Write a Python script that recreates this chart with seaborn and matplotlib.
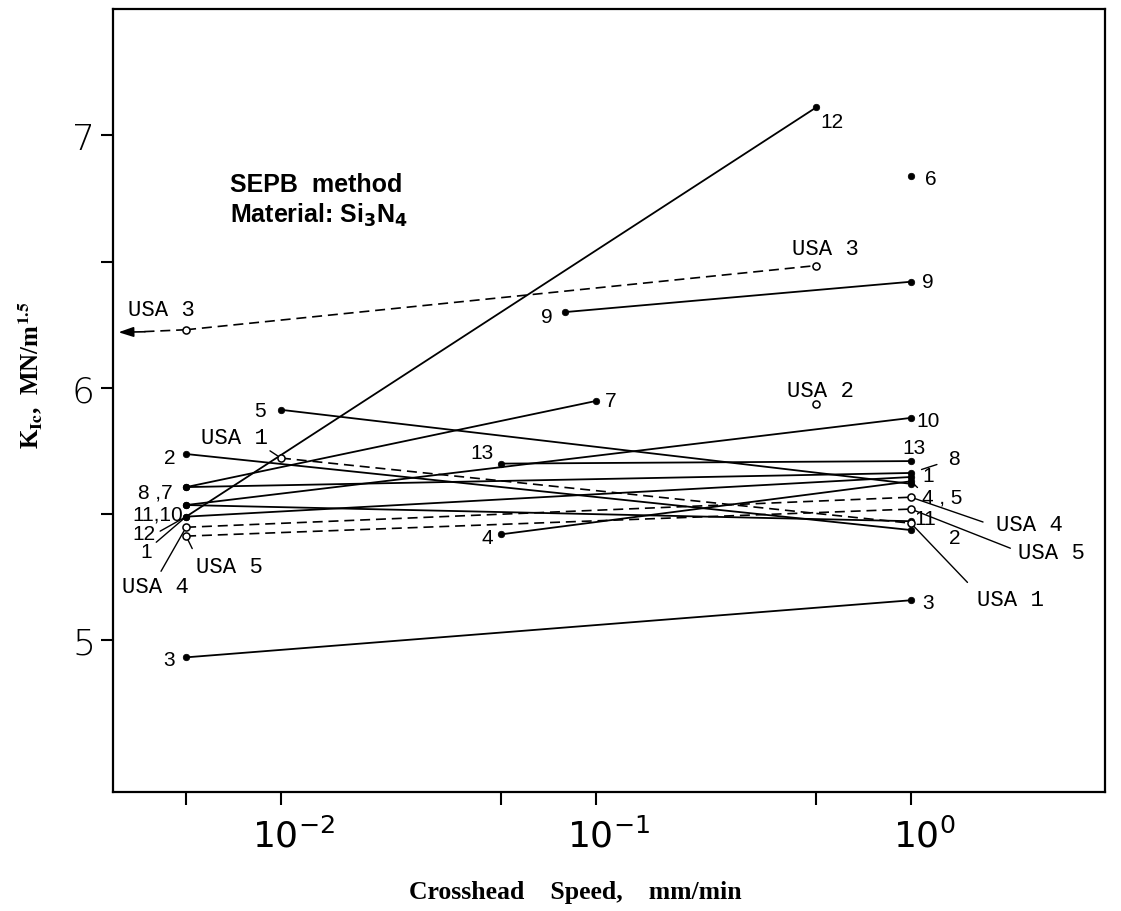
import matplotlib
matplotlib.use("Agg")
import matplotlib.pyplot as plt
from matplotlib.ticker import NullLocator
from matplotlib.transforms import ScaledTranslation
import pandas as pd
import seaborn as sns

# ---------------- data ----------------
s1_x, s1_y = [0.005, 1.0], [5.49, 5.647]
s2_x, s2_y = [0.005, 1.0], [5.738, 5.437]
s3_x, s3_y = [0.005, 1.0], [4.933, 5.159]
s4_x, s4_y = [0.05, 1.0], [5.42, 5.63]
s5_x, s5_y = [0.01, 1.0], [5.913, 5.62]
s6_x, s6_y = [1.0], [6.837]
s7_x, s7_y = [0.005, 0.1], [5.607, 5.948]
s8_x, s8_y = [0.005, 1.0], [5.607, 5.663]
s9_x, s9_y = [0.08, 1.0], [6.30, 6.42]
s10_x, s10_y = [0.005, 1.0], [5.536, 5.881]
s11_x, s11_y = [0.005, 1.0], [5.536, 5.472]
s12_x, s12_y = [0.005, 0.5], [5.49, 7.11]
s13_x, s13_y = [0.05, 1.0], [5.70, 5.71]

usa1_x, usa1_y = [0.01, 1.0], [5.722, 5.464]
usa2_x, usa2_y = [0.5], [5.937]
usa3_x, usa3_y = [0.005, 0.5], [6.23, 6.484]
usa4_x, usa4_y = [0.005, 1.0], [5.448, 5.567]
usa5_x, usa5_y = [0.005, 1.0], [5.413, 5.52]

solid_names = ['1', '2', '3', '4', '5', '6', '7', '8', '9', '10', '11', '12', '13']
solid_xs = [s1_x, s2_x, s3_x, s4_x, s5_x, s6_x, s7_x, s8_x, s9_x, s10_x, s11_x, s12_x, s13_x]
solid_ys = [s1_y, s2_y, s3_y, s4_y, s5_y, s6_y, s7_y, s8_y, s9_y, s10_y, s11_y, s12_y, s13_y]
usa_names = ['USA 1', 'USA 2', 'USA 3', 'USA 4', 'USA 5']
usa_xs = [usa1_x, usa2_x, usa3_x, usa4_x, usa5_x]
usa_ys = [usa1_y, usa2_y, usa3_y, usa4_y, usa5_y]

x_ticks = [0.005, 0.01, 0.05, 0.1, 0.5, 1.0]
x_ticklabels = ['', r'$10^{-2}$', '', r'$10^{-1}$', '', r'$10^{0}$']
y_ticks = [5.0, 5.5, 6.0, 6.5, 7.0]
y_ticklabels = ['5', '', '6', '', '7']

# ---------------- table ----------------
rows = []
for n, xs, ys in zip(solid_names, solid_xs, solid_ys):
    for x, y in zip(xs, ys):
        rows.append((n, 'solid', x, y))
for n, xs, ys in zip(usa_names, usa_xs, usa_ys):
    for x, y in zip(xs, ys):
        rows.append((n, 'usa', x, y))
df = pd.DataFrame(rows, columns=['sample', 'kind', 'speed', 'kic'])
counts = df.groupby('sample')['speed'].transform('count')
series = {n: (xs, ys) for n, xs, ys in zip(solid_names + usa_names, solid_xs + usa_xs, solid_ys + usa_ys)}

# ---------------- style ----------------
sns.set_style('ticks')
plt.rcParams['font.family'] = ['DejaVu Sans']
plt.rcParams['axes.linewidth'] = 1.6
for k in ['text.color', 'axes.labelcolor', 'axes.edgecolor', 'xtick.color', 'ytick.color']:
    plt.rcParams[k] = 'black'

fig = plt.figure(figsize=(11.21, 9.12), dpi=100)
ax = fig.add_axes([0.1008, 0.1305, 0.8849, 0.8586])
ax.set_xscale('log')

line_solid = df[(df['kind'] == 'solid') & (counts > 1)]
line_usa = df[(df['kind'] == 'usa') & (counts > 1)]
sns.lineplot(data=line_solid, x='speed', y='kic', units='sample', estimator=None,
             sort=False, color='black', lw=1.3, ax=ax)
sns.lineplot(data=line_usa, x='speed', y='kic', units='sample', estimator=None,
             sort=False, color='black', lw=1.2, linestyle=(0, (6, 3.5)), ax=ax)
sns.scatterplot(data=df[df['kind'] == 'solid'], x='speed', y='kic', color='black',
                edgecolor='black', s=22, linewidth=0.5, ax=ax, zorder=4)
sns.scatterplot(data=df[df['kind'] == 'usa'], x='speed', y='kic', color='white',
                edgecolor='black', s=26, linewidth=1.1, ax=ax, zorder=4)

# USA 3 arrow (value below the speed range)
ax.plot([usa3_x[0], 0.0036], [usa3_y[0], usa3_y[0] - 0.008], color='black', lw=1.2,
        linestyle=(0, (6, 3.5)))
ax.annotate('', xy=(0.00305, usa3_y[0] - 0.01), xytext=(0.0037, usa3_y[0] - 0.008),
            arrowprops=dict(arrowstyle='-|>,head_length=0.9,head_width=0.3',
                            color='black', lw=1.2, shrinkA=0, shrinkB=0))

# ---------------- point labels ----------------
num_font = dict(family=['Liberation Sans Narrow', 'Liberation Sans'], fontsize=15)
usa_font = dict(family=['Liberation Mono'], fontsize=16)
labels = [
    ('5', '5', 0, -21, 1, None, 0, 0),
    ('USA 1', 'USA 1', 0, -46, -21, (0.95, 0.0), 0, 3),
    ('2', '2', 0, -16, 3, None, 0, 0),
    ('8 ,7', '8', 0, -31, 5, None, 0, 0),
    ('11,10', '10', 0, -28, 9, None, 0, 0),
    ('12', '12', 0, -42, 17, (1.0, 0.5), 1, 2),
    ('1', '1', 0, -40, 35, (1.0, 0.8), 1, 2),
    ('USA 4', 'USA 4', 0, -31, 59, (0.55, 1.0), 1, 3),
    ('USA 5', 'USA 5', 0, 43, 30, (0.0, 1.0), 3, 3),
    ('3', '3', 0, -17, 2, None, 0, 0),
    ('4', '4', 0, -14, 3, None, 0, 0),
    ('13', '13', 0, -19, -11, None, 0, 0),
    ('7', '7', 1, 15, 0, None, 0, 0),
    ('9', '9', 0, -19, 4, None, 0, 0),
    ('9', '9', 1, 17, 0, None, 0, 0),
    ('12', '12', 1, 16, 14, None, 0, 0),
    ('6', '6', 0, 20, 2, None, 0, 0),
    ('USA 3', 'USA 3', 1, 9, -17, None, 0, 0),
    ('USA 3', 'USA 3', 0, -25, -20, None, 0, 0),
    ('USA 2', 'USA 2', 0, 4, -13, None, 0, 0),
    ('10', '10', 1, 17, 3, None, 0, 0),
    ('13', '13', 1, 3, -14, None, 0, 0),
    ('8', '8', 1, 43, -14, (0.0, 0.4), 6, 8),
    ('1', '1', 1, 17, -1, None, 0, 0),
    ('4 , 5', '4', 1, 31, 16, (0.0, 0.8), 1, 2),
    ('USA 4', 'USA 4', 1, 118, 27, (0.0, 0.4), 7, 3),
    ('USA 5', 'USA 5', 1, 140, 43, (0.0, 0.55), 3, 3),
    ('11', '11', 1, 14, -3, None, 0, 0),
    ('2', '2', 1, 44, 7, None, 0, 0),
    ('USA 1', 'USA 1', 1, 99, 76, (0.0, 0.85), 6, 3),
    ('3', '3', 1, 17, 2, None, 0, 0),
]
px2pt = 72.0 / fig.dpi
for text, key, idx, dx, dy, rel, sa, sb in labels:
    xs, ys = series[key]
    font = usa_font if text.startswith('USA') else num_font
    kw = {}
    if rel is not None:
        kw['arrowprops'] = dict(arrowstyle='-', color='black', lw=1.0, relpos=rel,
                                shrinkA=sa, shrinkB=sb)
    ax.annotate(text, xy=(xs[idx], ys[idx]), xytext=(dx * px2pt, -dy * px2pt),
                textcoords='offset points', ha='center', va='center', **font, **kw)

# ---------------- text block ----------------
ax.text(0.118, 0.768, 'SEPB  method', transform=ax.transAxes, ha='left', va='baseline',
        family='Liberation Sans', fontweight='bold', fontsize=18)
ax.text(0.118, 0.728, r'Material: Si$_\mathbf{3}$N$_\mathbf{4}$', transform=ax.transAxes,
        ha='left', va='baseline', family='Liberation Sans', fontweight='bold', fontsize=18,
        math_fontfamily='dejavusans')

# ---------------- axes ----------------
ax.set_xlim(0.00293, 4.13)
ax.set_ylim(4.4, 7.5)
ax.set_xticks(x_ticks)
ax.set_xticklabels(x_ticklabels)
ax.xaxis.set_minor_locator(NullLocator())
ax.set_yticks(y_ticks)
ax.set_yticklabels(y_ticklabels)
ax.tick_params(axis='both', which='major', direction='out', length=9, width=1.5,
               labelsize=26, color='black', labelcolor='black')
ax.tick_params(axis='x', pad=9)
ax.tick_params(axis='y', pad=4)
for lab in ax.get_yticklabels():
    lab.set_fontweight('light')
shift = ScaledTranslation(13 / 100, 0, fig.dpi_scale_trans)
for lab in ax.get_xticklabels():
    lab.set_transform(lab.get_transform() + shift)
for sp in ax.spines.values():
    sp.set_visible(True)
    sp.set_linewidth(1.6)
    sp.set_color('black')

ax.set_xlabel('Crosshead    Speed,    mm/min', family='Liberation Serif',
              fontweight='bold', fontsize=18.5)
ax.xaxis.set_label_coords(0.466, -0.112)
ax.set_ylabel(r'K$_{\mathbf{Ic}}$,  MN/m$^{\mathbf{1.5}}$', family='Liberation Serif',
              fontweight='bold', fontsize=18, math_fontfamily='stix')
ax.yaxis.set_label_coords(-0.069, 0.534)

fig.savefig('out.png', dpi=100)
